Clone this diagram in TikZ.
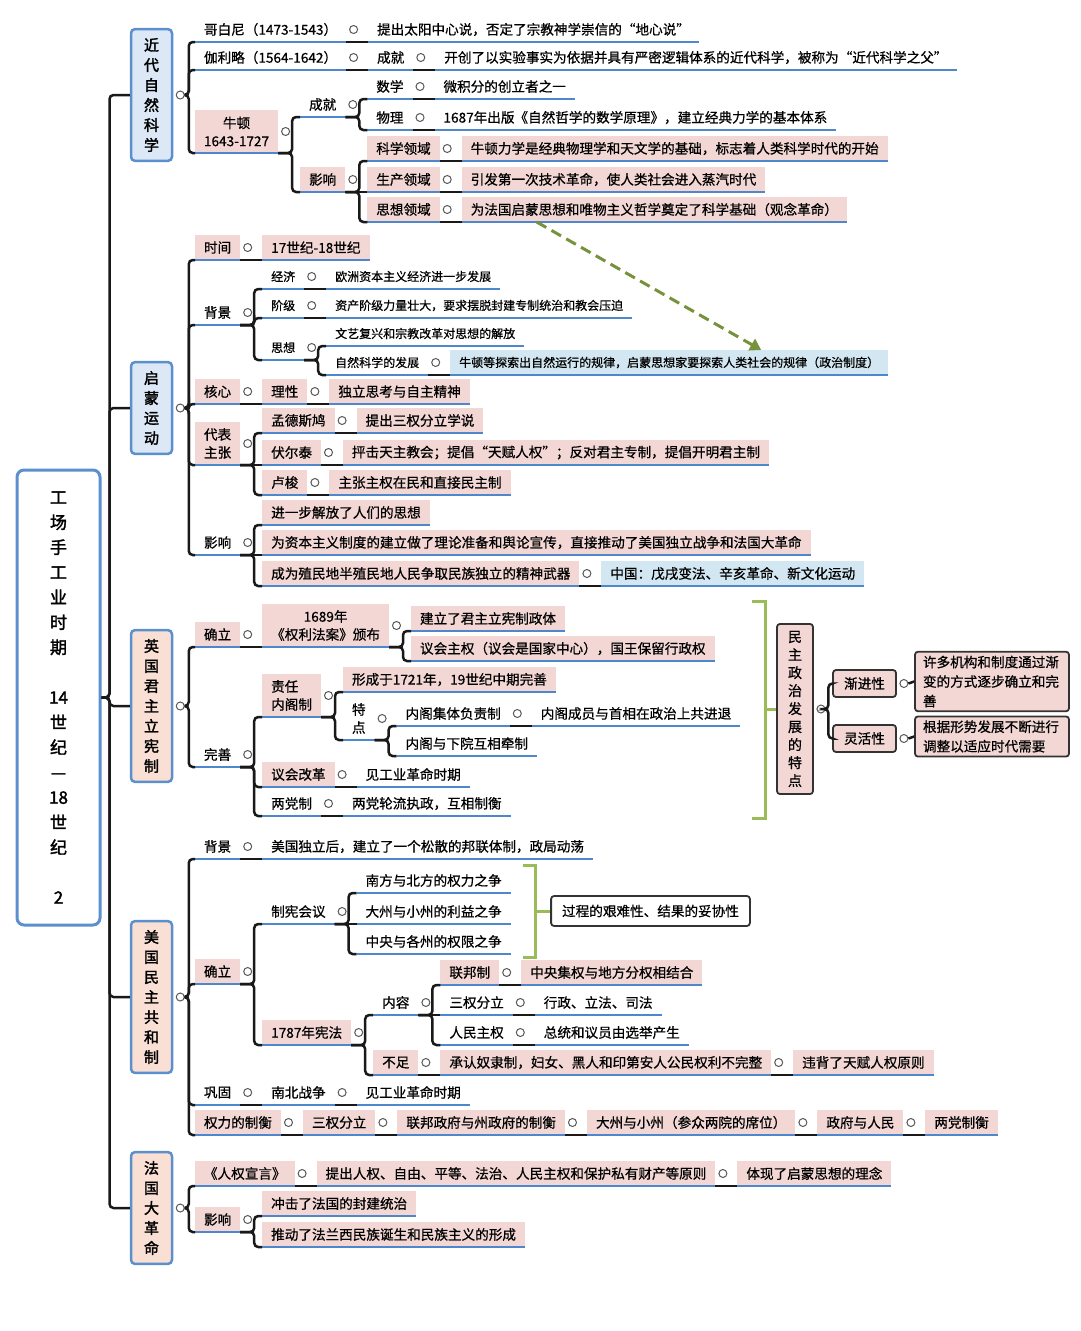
\documentclass[tikz,border=0pt]{standalone}
\usepackage{fontspec}
\setmainfont{Noto Sans CJK SC}[FakeBold=0.7, AutoFakeBold=2]
\usetikzlibrary{arrows.meta}

\newcommand{\txtnorm}{\fontsize{13.6}{18}\selectfont}
\newcommand{\txtsmall}{\fontsize{12}{15}\selectfont}
\newcommand{\txtcat}{\fontsize{15}{20}\selectfont\bfseries}
\newcommand{\txtroot}{\fontsize{17}{25}\selectfont\bfseries}
\newcommand{\txtside}{\fontsize{14}{18}\selectfont}
\newcommand{\txtwrap}{\fontsize{13.6}{19.5}\selectfont}

\definecolor{ulblue}{RGB}{79,135,205}
\definecolor{pinkbg}{RGB}{242,215,213}
\definecolor{skybg}{RGB}{210,231,241}
\definecolor{catblue}{RGB}{91,143,206}
\definecolor{catsky}{RGB}{220,232,245}
\definecolor{catpeach}{RGB}{250,224,212}
\definecolor{lnk}{RGB}{25,25,25}
\definecolor{brgreen}{RGB}{155,187,89}
\definecolor{arrgreen}{RGB}{118,146,60}

\tikzset{
	box/.style={anchor=south west, inner xsep=9pt, inner ysep=2pt, outer sep=0pt,
		minimum height=25pt, font=\txtnorm,
		append after command={(\tikzlastnode.south west) edge[uline] (\tikzlastnode.south east)}},
	uline/.style={draw=ulblue, line width=2.2pt},
	pk/.style={fill=pinkbg},
	sky/.style={fill=skybg},
	sm/.style={font=\txtsmall},
	two/.style={minimum height=43pt, align=center},
	hub/.style={label={[dot]0:{}}},
	dot/.style={circle, draw=black!65, fill=white, line width=1pt, minimum size=8pt, inner sep=0pt},
	conn/.style={draw=lnk, line width=2.5pt, rounded corners=4pt},
	cat/.style={draw=catblue, line width=2.5pt, rounded corners=4pt, minimum width=41pt,
		inner xsep=2pt, inner ysep=9pt, align=center, font=\txtcat},
	rootbox/.style={draw=catblue, line width=3pt, rounded corners=7pt, fill=white,
		minimum width=83pt, minimum height=455pt, align=center, font=\txtroot},
	rbox/.style={draw=black!80, fill=pinkbg, line width=1.8pt, rounded corners=3pt,
		inner xsep=8pt, inner ysep=4pt, font=\txtnorm},
	brk/.style={draw=brgreen, line width=3pt},
	dasharr/.style={draw=arrgreen, line width=3pt, dash pattern=on 11pt off 6pt,
		-{Triangle[width=13pt,length=11pt]}},
}

\begin{document}
\begin{tikzpicture}[x=1pt, y=1pt, label distance=3pt]
	\useasboundingbox (0,0) rectangle (1080,-1331);

	% Nodo radice e rami
	\node[rootbox] (rt) at (58.5,-697.5) {工\\场\\手\\工\\业\\时\\期\\[25pt]14\\世\\纪\\—\\18\\世\\纪\\[25pt]2};
	\node[cat, fill=catsky] (c1) at (151.5,-95) {近\\代\\自\\然\\科\\学};
	\node[cat, fill=catsky] (c2) at (151.5,-408) {启\\蒙\\运\\动};
	\node[cat, fill=catpeach] (c3) at (151.5,-706) {英\\国\\君\\主\\立\\宪\\制};
	\node[cat, fill=catpeach] (c4) at (151.5,-997) {美\\国\\民\\主\\共\\和\\制};
	\node[cat, fill=catpeach] (c5) at (151.5,-1208) {法\\国\\大\\革\\命};
	\node[dot] (c1o) at ([xshift=7]c1.east) {};
	\node[dot] (c2o) at ([xshift=7]c2.east) {};
	\node[dot] (c3o) at ([xshift=7]c3.east) {};
	\node[dot] (c4o) at ([xshift=7]c4.east) {};
	\node[dot] (c5o) at ([xshift=7]c5.east) {};

	% Definisci i nodi:近代自然科学
	\node[box, hub] (k1) at (195,-42) {哥白尼（1473-1543）};
	\node[box] (k1a) at ([xshift=22]k1.south east) {提出太阳中心说，否定了宗教神学崇信的“地心说”};
	\node[box, hub] (k2) at (195,-70) {伽利略（1564-1642）};
	\node[box, hub] (k2a) at ([xshift=22]k2.south east) {成就};
	\node[box] (k2b) at ([xshift=22]k2a.south east) {开创了以实验事实为依据并具有严密逻辑体系的近代科学，被称为“近代科学之父”};
	\node[box, pk, hub, two] (k3) at (195,-153) {牛顿\\1643-1727};
	\node[box, hub] (k3a) at ([shift={(22,36)}]k3.south east) {成就};
	\node[box, hub] (k3a1) at ([shift={(22,18)}]k3a.south east) {数学};
	\node[box] (k3a1a) at ([xshift=22]k3a1.south east) {微积分的创立者之一};
	\node[box, hub] (k3a2) at ([shift={(22,-13)}]k3a.south east) {物理};
	\node[box] (k3a2a) at ([xshift=22]k3a2.south east) {1687年出版《自然哲学的数学原理》，建立经典力学的基本体系};
	\node[box, pk, hub] (k3b) at ([shift={(22,-39)}]k3.south east) {影响};
	\node[box, pk, hub] (k3b1) at ([shift={(22,31)}]k3b.south east) {科学领域};
	\node[box, pk] (k3b1a) at ([xshift=22]k3b1.south east) {牛顿力学是经典物理学和天文学的基础，标志着人类科学时代的开始};
	\node[box, pk, hub] (k3b2) at ([xshift=22]k3b.south east) {生产领域};
	\node[box, pk] (k3b2a) at ([xshift=22]k3b2.south east) {引发第一次技术革命，使人类社会进入蒸汽时代};
	\node[box, pk, hub] (k3b3) at ([shift={(22,-30)}]k3b.south east) {思想领域};
	\node[box, pk] (k3b3a) at ([xshift=22]k3b3.south east) {为法国启蒙思想和唯物主义哲学奠定了科学基础（观念革命）};

	% Definisci i nodi: 启蒙运动
	\node[box, pk, hub] (q1) at (195,-260) {时间};
	\node[box, pk] (q1a) at ([xshift=22]q1.south east) {17世纪-18世纪};
	\node[box, hub] (q2) at (195,-325) {背景};
	\node[box, sm, hub] (q2a) at ([shift={(22,36)}]q2.south east) {经济};
	\node[box, sm] (q2a1) at ([xshift=22]q2a.south east) {欧洲资本主义经济进一步发展};
	\node[box, sm, hub] (q2b) at ([shift={(22,7)}]q2.south east) {阶级};
	\node[box, sm] (q2b1) at ([xshift=22]q2b.south east) {资产阶级力量壮大，要求摆脱封建专制统治和教会压迫};
	\node[box, sm, hub] (q2c) at ([shift={(22,-35)}]q2.south east) {思想};
	\node[box, sm] (q2c1) at ([shift={(22,14)}]q2c.south east) {文艺复兴和宗教改革对思想的解放};
	\node[box, sm, hub] (q2c2) at ([shift={(22,-15)}]q2c.south east) {自然科学的发展};
	\node[box, sm, sky] (q2c3) at ([xshift=22]q2c2.south east) {牛顿等探索出自然运行的规律，启蒙思想家要探索人类社会的规律（政治制度）};
	\node[box, pk, hub] (q3) at (195,-404) {核心};
	\node[box, pk, hub] (q3a) at ([xshift=22]q3.south east) {理性};
	\node[box, pk] (q3b) at ([xshift=22]q3a.south east) {独立思考与自主精神};
	\node[box, pk, hub, two] (q4) at (195,-465) {代表\\主张};
	\node[box, pk, hub] (q4a) at ([shift={(22,32)}]q4.south east) {孟德斯鸠};
	\node[box, pk] (q4a1) at ([xshift=22]q4a.south east) {提出三权分立学说};
	\node[box, pk, hub] (q4b) at ([xshift=22]q4.south east) {伏尔泰};
	\node[box, pk] (q4b1) at ([xshift=22]q4b.south east) {抨击天主教会；提倡“天赋人权”；反对君主专制，提倡开明君主制};
	\node[box, pk, hub] (q4c) at ([shift={(22,-30)}]q4.south east) {卢梭};
	\node[box, pk] (q4c1) at ([xshift=22]q4c.south east) {主张主权在民和直接民主制};
	\node[box, hub] (q5) at (195,-555) {影响};
	\node[box, pk] (q5a) at ([shift={(22,30)}]q5.south east) {进一步解放了人们的思想};
	\node[box, pk] (q5b) at ([xshift=22]q5.south east) {为资本主义制度的建立做了理论准备和舆论宣传，直接推动了美国独立战争和法国大革命};
	\node[box, pk, hub] (q5c) at ([shift={(22,-31)}]q5.south east) {成为殖民地半殖民地人民争取民族独立的精神武器};
	\node[box, sky] (q5c1) at ([xshift=22]q5c.south east) {中国：戊戌变法、辛亥革命、新文化运动};

	% Definisci i nodi: 英国君主立宪制
	\node[box, pk, hub] (y1) at (195,-647) {确立};
	\node[box, pk, hub, two] (y1a) at ([xshift=22]y1.south east) {1689年\\《权利法案》颁布};
	\node[box, pk] (y1a1) at ([shift={(22,16)}]y1a.south east) {建立了君主立宪制政体};
	\node[box, pk] (y1a2) at ([shift={(22,-14)}]y1a.south east) {议会主权（议会是国家中心），国王保留行政权};
	\node[box, hub] (y2) at (195,-767) {完善};
	\node[box, pk, hub, two, align=left] (y2a) at ([shift={(22,50)}]y2.south east) {责任\\内阁制};
	\node[box, pk] (y2a1) at ([shift={(22,25)}]y2a.south east) {形成于1721年，19世纪中期完善};
	\node[box, hub, two] (y2a2) at ([shift={(22,-23)}]y2a.south east) {特\\点};
	\node[box, hub] (y2a2a) at ([shift={(22,14)}]y2a2.south east) {内阁集体负责制};
	\node[box] (y2a2b) at ([xshift=22]y2a2a.south east) {内阁成员与首相在政治上共进退};
	\node[box] (y2a2c) at ([shift={(22,-16)}]y2a2.south east) {内阁与下院互相牵制};
	\node[box, pk, hub] (y2b) at ([shift={(22,-20)}]y2.south east) {议会改革};
	\node[box] (y2b1) at ([xshift=22]y2b.south east) {见工业革命时期};
	\node[box, hub] (y2c) at ([shift={(22,-49)}]y2.south east) {两党制};
	\node[box] (y2c1) at ([xshift=22]y2c.south east) {两党轮流执政，互相制衡};

	% Definisci i nodi: 民主政治发展的特点
	\node[rbox, align=center, font=\txtside, minimum width=36pt, inner xsep=2pt, inner ysep=7pt] (mz) at (795,-709) {民\\主\\政\\治\\发\\展\\的\\特\\点};
	\node[dot] (mzo) at ([xshift=7]mz.east) {};
	\node[rbox, minimum width=63pt, minimum height=27pt] (jj) at (864.5,-683.5) {渐进性};
	\node[dot] (jjo) at ([xshift=7]jj.east) {};
	\node[rbox, text width=138pt, align=left, font=\txtwrap] (jd) at (992,-681.5) {许多机构和制度通过渐\\变的方式逐步确立和完\\善};
	\node[rbox, minimum width=63pt, minimum height=27pt] (lh) at (864.5,-738.5) {灵活性};
	\node[dot] (lho) at ([xshift=7]lh.east) {};
	\node[rbox, text width=138pt, align=left, font=\txtwrap] (lg) at (992,-736.5) {根据形势发展不断进行\\调整以适应时代需要};
	\coordinate (b1) at (765,-709);

	% Definisci i nodi: 美国民主共和制
	\node[box, hub] (m1) at (195,-859) {背景};
	\node[box] (m1a) at ([xshift=22]m1.south east) {美国独立后，建立了一个松散的邦联体制，政局动荡};
	\node[box, pk, hub] (m2) at (195,-984) {确立};
	\node[box, hub] (m2a) at ([shift={(22,60)}]m2.south east) {制宪会议};
	\node[box] (m2a1) at ([shift={(22,31)}]m2a.south east) {南方与北方的权力之争};
	\node[box] (m2a2) at ([xshift=22]m2a.south east) {大州与小州的利益之争};
	\node[box] (m2a3) at ([shift={(22,-30)}]m2a.south east) {中央与各州的权限之争};
	\node[rbox, fill=white, minimum height=30pt, inner xsep=11pt] (gc) at (650.5,-911) {过程的艰难性、结果的妥协性};
	\coordinate (b2) at (535,-911);
	\node[box, pk, hub] (m2b) at ([shift={(22,-61)}]m2.south east) {1787年宪法};
	\node[box, hub] (m2b1) at ([shift={(22,30)}]m2b.south east) {内容};
	\node[box, pk, hub] (m2b1a) at ([shift={(22,30)}]m2b1.south east) {联邦制};
	\node[box, pk] (m2b1a1) at ([xshift=22]m2b1a.south east) {中央集权与地方分权相结合};
	\node[box, hub] (m2b1b) at ([xshift=22]m2b1.south east) {三权分立};
	\node[box] (m2b1b1) at ([xshift=22]m2b1b.south east) {行政、立法、司法};
	\node[box, hub] (m2b1c) at ([shift={(22,-30)}]m2b1.south east) {人民主权};
	\node[box] (m2b1c1) at ([xshift=22]m2b1c.south east) {总统和议员由选举产生};
	\node[box, pk, hub] (m2b2) at ([shift={(22,-30)}]m2b.south east) {不足};
	\node[box, pk, hub] (m2b2a) at ([xshift=22]m2b2.south east) {承认奴隶制，妇女、黑人和印第安人公民权利不完整};
	\node[box, pk] (m2b2b) at ([xshift=22]m2b2a.south east) {违背了天赋人权原则};
	\node[box, hub] (m3) at (195,-1105) {巩固};
	\node[box, hub] (m3a) at ([xshift=22]m3.south east) {南北战争};
	\node[box] (m3b) at ([xshift=22]m3a.south east) {见工业革命时期};
	\node[box, pk, hub] (m4) at (195,-1135) {权力的制衡};
	\node[box, pk, hub] (m4a) at ([xshift=22]m4.south east) {三权分立};
	\node[box, pk, hub] (m4b) at ([xshift=22]m4a.south east) {联邦政府与州政府的制衡};
	\node[box, pk, hub] (m4c) at ([xshift=22]m4b.south east) {大州与小州（参众两院的席位）};
	\node[box, pk, hub] (m4d) at ([xshift=22]m4c.south east) {政府与人民};
	\node[box, pk] (m4e) at ([xshift=22]m4d.south east) {两党制衡};

	% Definisci i nodi: 法国大革命
	\node[box, pk, hub] (f1) at (195,-1186) {《人权宣言》};
	\node[box, pk, hub] (f1a) at ([xshift=22]f1.south east) {提出人权、自由、平等、法治、人民主权和保护私有财产等原则};
	\node[box, pk] (f1b) at ([xshift=22]f1a.south east) {体现了启蒙思想的理念};
	\node[box, pk, hub] (f2) at (195,-1232) {影响};
	\node[box, pk] (f2a) at ([shift={(22,16)}]f2.south east) {冲击了法国的封建统治};
	\node[box, pk] (f2b) at ([shift={(22,-15)}]f2.south east) {推动了法兰西民族诞生和民族主义的形成};

	% Collega i nodi
	\draw[conn] (rt.east) -- ++(8,0) |- (c1.west);
	\draw[conn] (rt.east) -- ++(8,0) |- (c2.west);
	\draw[conn] (rt.east) -- ++(8,0) |- (c3.west);
	\draw[conn] (rt.east) -- ++(8,0) |- (c4.west);
	\draw[conn] (rt.east) -- ++(8,0) |- (c5.west);

	\draw[conn] (c1o.east) -- ++(4,0) |- (k1.south west);
	\draw[conn] (c1o.east) -- ++(4,0) |- (k2.south west);
	\draw[conn] (c1o.east) -- ++(4,0) |- (k3.south west);
	\draw[conn] (k1.south east) -- (k1a.south west);
	\draw[conn] (k2.south east) -- (k2a.south west);
	\draw[conn] (k2a.south east) -- (k2b.south west);
	\draw[conn] (k3.south east) -- ++(14,0) |- (k3a.south west);
	\draw[conn] (k3.south east) -- ++(14,0) |- (k3b.south west);
	\draw[conn] (k3a.south east) -- ++(14,0) |- (k3a1.south west);
	\draw[conn] (k3a.south east) -- ++(14,0) |- (k3a2.south west);
	\draw[conn] (k3a1.south east) -- (k3a1a.south west);
	\draw[conn] (k3a2.south east) -- (k3a2a.south west);
	\draw[conn] (k3b.south east) -- ++(14,0) |- (k3b1.south west);
	\draw[conn] (k3b.south east) -- (k3b2.south west);
	\draw[conn] (k3b.south east) -- ++(14,0) |- (k3b3.south west);
	\draw[conn] (k3b1.south east) -- (k3b1a.south west);
	\draw[conn] (k3b2.south east) -- (k3b2a.south west);
	\draw[conn] (k3b3.south east) -- (k3b3a.south west);

	\draw[conn] (c2o.east) -- ++(4,0) |- (q1.south west);
	\draw[conn] (c2o.east) -- ++(4,0) |- (q2.south west);
	\draw[conn] (c2o.east) -- ++(4,0) |- (q3.south west);
	\draw[conn] (c2o.east) -- ++(4,0) |- (q4.south west);
	\draw[conn] (c2o.east) -- ++(4,0) |- (q5.south west);
	\draw[conn] (q1.south east) -- (q1a.south west);
	\draw[conn] (q2.south east) -- ++(14,0) |- (q2a.south west);
	\draw[conn] (q2.south east) -- ++(14,0) |- (q2b.south west);
	\draw[conn] (q2.south east) -- ++(14,0) |- (q2c.south west);
	\draw[conn] (q2a.south east) -- (q2a1.south west);
	\draw[conn] (q2b.south east) -- (q2b1.south west);
	\draw[conn] (q2c.south east) -- ++(14,0) |- (q2c1.south west);
	\draw[conn] (q2c.south east) -- ++(14,0) |- (q2c2.south west);
	\draw[conn] (q2c2.south east) -- (q2c3.south west);
	\draw[conn] (q3.south east) -- (q3a.south west);
	\draw[conn] (q3a.south east) -- (q3b.south west);
	\draw[conn] (q4.south east) -- ++(14,0) |- (q4a.south west);
	\draw[conn] (q4.south east) -- (q4b.south west);
	\draw[conn] (q4.south east) -- ++(14,0) |- (q4c.south west);
	\draw[conn] (q4a.south east) -- (q4a1.south west);
	\draw[conn] (q4b.south east) -- (q4b1.south west);
	\draw[conn] (q4c.south east) -- (q4c1.south west);
	\draw[conn] (q5.south east) -- ++(14,0) |- (q5a.south west);
	\draw[conn] (q5.south east) -- (q5b.south west);
	\draw[conn] (q5.south east) -- ++(14,0) |- (q5c.south west);
	\draw[conn] (q5c.south east) -- (q5c1.south west);

	\draw[conn] (c3o.east) -- ++(4,0) |- (y1.south west);
	\draw[conn] (c3o.east) -- ++(4,0) |- (y2.south west);
	\draw[conn] (y1.south east) -- (y1a.south west);
	\draw[conn] (y1a.south east) -- ++(14,0) |- (y1a1.south west);
	\draw[conn] (y1a.south east) -- ++(14,0) |- (y1a2.south west);
	\draw[conn] (y2.south east) -- ++(14,0) |- (y2a.south west);
	\draw[conn] (y2.south east) -- ++(14,0) |- (y2b.south west);
	\draw[conn] (y2.south east) -- ++(14,0) |- (y2c.south west);
	\draw[conn] (y2a.south east) -- ++(14,0) |- (y2a1.south west);
	\draw[conn] (y2a.south east) -- ++(14,0) |- (y2a2.south west);
	\draw[conn] (y2a2.south east) -- ++(14,0) |- (y2a2a.south west);
	\draw[conn] (y2a2.south east) -- ++(14,0) |- (y2a2c.south west);
	\draw[conn] (y2a2a.south east) -- (y2a2b.south west);
	\draw[conn] (y2b.south east) -- (y2b1.south west);
	\draw[conn] (y2c.south east) -- (y2c1.south west);

	\draw[conn] (mzo.east) -- ++(3,0) |- (jj.west);
	\draw[conn] (mzo.east) -- ++(3,0) |- (lh.west);
	\draw[conn] (jjo.east) -- (jd.west);
	\draw[conn] (lho.east) -- (lg.west);

	\draw[conn] (c4o.east) -- ++(4,0) |- (m1.south west);
	\draw[conn] (c4o.east) -- ++(4,0) |- (m2.south west);
	\draw[conn] (c4o.east) -- ++(4,0) |- (m3.south west);
	\draw[conn] (c4o.east) -- ++(4,0) |- (m4.south west);
	\draw[conn] (m1.south east) -- (m1a.south west);
	\draw[conn] (m2.south east) -- ++(14,0) |- (m2a.south west);
	\draw[conn] (m2.south east) -- ++(14,0) |- (m2b.south west);
	\draw[conn] (m2a.south east) -- ++(14,0) |- (m2a1.south west);
	\draw[conn] (m2a.south east) -- (m2a2.south west);
	\draw[conn] (m2a.south east) -- ++(14,0) |- (m2a3.south west);
	\draw[conn] (m2b.south east) -- ++(14,0) |- (m2b1.south west);
	\draw[conn] (m2b.south east) -- ++(14,0) |- (m2b2.south west);
	\draw[conn] (m2b1.south east) -- ++(14,0) |- (m2b1a.south west);
	\draw[conn] (m2b1.south east) -- (m2b1b.south west);
	\draw[conn] (m2b1.south east) -- ++(14,0) |- (m2b1c.south west);
	\draw[conn] (m2b1a.south east) -- (m2b1a1.south west);
	\draw[conn] (m2b1b.south east) -- (m2b1b1.south west);
	\draw[conn] (m2b1c.south east) -- (m2b1c1.south west);
	\draw[conn] (m2b2.south east) -- (m2b2a.south west);
	\draw[conn] (m2b2a.south east) -- (m2b2b.south west);
	\draw[conn] (m3.south east) -- (m3a.south west);
	\draw[conn] (m3a.south east) -- (m3b.south west);
	\draw[conn] (m4.south east) -- (m4a.south west);
	\draw[conn] (m4a.south east) -- (m4b.south west);
	\draw[conn] (m4b.south east) -- (m4c.south west);
	\draw[conn] (m4c.south east) -- (m4d.south west);
	\draw[conn] (m4d.south east) -- (m4e.south west);

	\draw[conn] (c5o.east) -- ++(4,0) |- (f1.south west);
	\draw[conn] (c5o.east) -- ++(4,0) |- (f2.south west);
	\draw[conn] (f1.south east) -- (f1a.south west);
	\draw[conn] (f1a.south east) -- (f1b.south west);
	\draw[conn] (f2.south east) -- ++(14,0) |- (f2a.south west);
	\draw[conn] (f2.south east) -- ++(14,0) |- (f2b.south west);

	% Parentesi verdi e freccia
	\draw[brk] (752,-601) -- (765,-601) -- (765,-818) -- (752,-818);
	\draw[brk] (b1) -- (mz.west);
	\draw[brk] (523,-865) -- (535,-865) -- (535,-957) -- (523,-957);
	\draw[brk] (b2) -- (gc.west);
	\draw[dasharr] ([xshift=75]k3b3a.south west) -- ([xshift=311]q2c3.north west);
\end{tikzpicture}
\end{document}
